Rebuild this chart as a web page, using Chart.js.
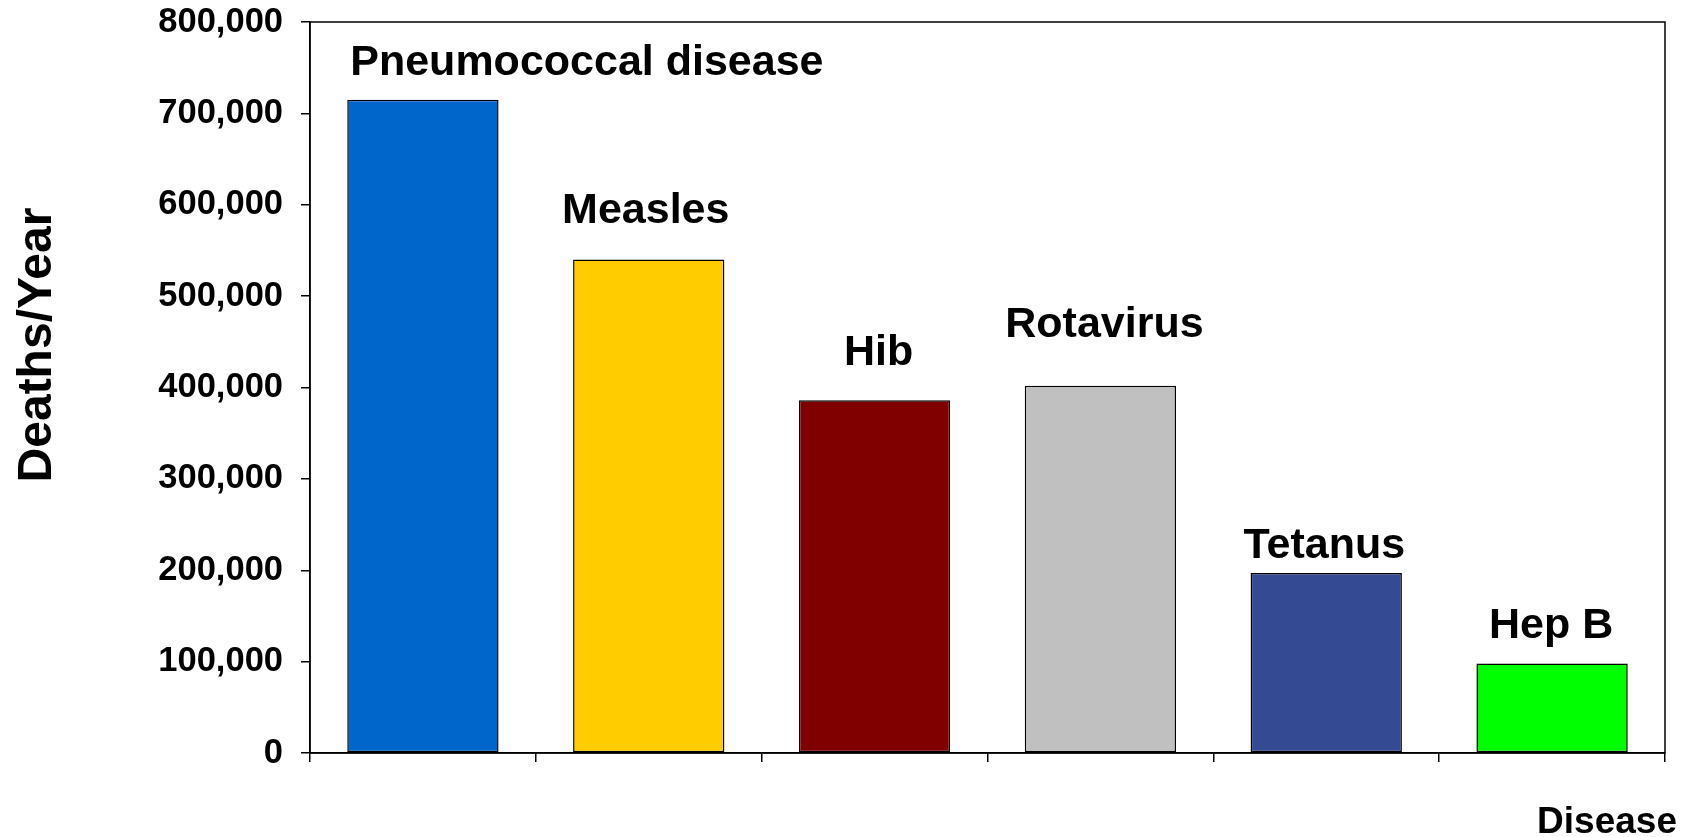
<!DOCTYPE html>
<html>
<head>
<meta charset="utf-8">
<script src="https://cdn.jsdelivr.net/npm/chart.js@4.4.1/dist/chart.umd.min.js"></script>
<style>
  html, body { margin: 0; padding: 0; background: #fff; }
  #wrap { width: 1690px; height: 837px; position: relative; }
</style>
</head>
<body>
<div id="wrap"><canvas id="c" width="1690" height="837"></canvas></div>
<script>
// ---- Data ----
const categories = ["Pneumococcal disease", "Measles", "Hib", "Rotavirus", "Tetanus", "Hep B"];
const deathsPerYear = [715000, 540000, 386000, 402000, 197000, 98000];
const barColors = ["#0066CC", "#FFCC00", "#800000", "#C0C0C0", "#344B94", "#00FF00"];
const yTickValues = [0, 100000, 200000, 300000, 400000, 500000, 600000, 700000, 800000];
const yAxisTitle = "Deaths/Year";
const xAxisTitle = "Disease";

// ---- Label placement (pixel offsets from bar top-center) ----
const labelDx = [-72, -3, 4, 4, -2, -1];   // horizontal offset (px); first label is left aligned at bar left
const labelDy = [37, 48, 47, 61, 27, 37];  // distance above bar top (px)

const FONT = "'Liberation Sans', Arial, Helvetica, sans-serif";

const barLabelPlugin = {
  id: 'barLabels',
  afterDatasetsDraw(chart) {
    const ctx = chart.ctx;
    const meta = chart.getDatasetMeta(0);
    ctx.save();
    ctx.font = "bold 43px " + FONT;
    ctx.fillStyle = "#000";
    ctx.textBaseline = "middle";
    meta.data.forEach((bar, i) => {
      if (i === 0) {
        ctx.textAlign = "left";
        const left = bar.x - bar.width / 2;
        ctx.fillText(categories[i], left + 3, bar.y - labelDy[i]);
      } else {
        ctx.textAlign = "center";
        ctx.fillText(categories[i], bar.x + labelDx[i], bar.y - labelDy[i]);
      }
    });
    ctx.restore();
  }
};

const framePlugin = {
  id: 'frame',
  afterDraw(chart) {
    const a = chart.chartArea;
    const ctx = chart.ctx;
    ctx.save();
    ctx.strokeStyle = "#000";
    ctx.lineWidth = 1.5;
    ctx.strokeRect(a.left, a.top, a.right - a.left, a.bottom - a.top);
    ctx.restore();
  }
};

const axisTitlePlugin = {
  id: 'axisTitles',
  afterDraw(chart) {
    const ctx = chart.ctx;
    ctx.save();
    ctx.fillStyle = "#000";
    ctx.font = "bold 48px " + FONT;
    ctx.textAlign = "center";
    ctx.textBaseline = "middle";
    ctx.translate(38, 345);
    ctx.rotate(-Math.PI / 2);
    ctx.fillText(yAxisTitle, 0, 0);
    ctx.restore();
    ctx.save();
    ctx.fillStyle = "#000";
    ctx.font = "bold 37px " + FONT;
    ctx.textAlign = "right";
    ctx.textBaseline = "alphabetic";
    ctx.fillText(xAxisTitle, 1677, 833);
    ctx.restore();
  }
};

new Chart(document.getElementById('c'), {
  type: 'bar',
  data: {
    labels: categories,
    datasets: [{
      data: deathsPerYear,
      backgroundColor: barColors,
      borderColor: "#000",
      borderWidth: 1.5,
      borderSkipped: false,
      barPercentage: 0.67,
      categoryPercentage: 1.0
    }]
  },
  options: {
    responsive: false,
    animation: false,
    events: [],
    layout: { padding: { top: 22, right: 25, left: 0, bottom: 0 } },
    plugins: {
      legend: { display: false },
      tooltip: { enabled: false },
      title: { display: false }
    },
    scales: {
      x: {
        grid: {
          display: true,
          offset: true,
          drawOnChartArea: false,
          drawTicks: true,
          tickLength: 9,
          color: "#000",
          lineWidth: 1.5
        },
        border: { display: true, color: "#000", width: 1.5 },
        ticks: { display: false },
        afterFit(scale) { scale.height = 84; scale.paddingLeft = 0; scale.paddingRight = 0; }
      },
      y: {
        min: 0,
        max: 800000,
        afterBuildTicks(scale) { scale.ticks = yTickValues.map(v => ({ value: v })); },
        grid: {
          display: true,
          drawOnChartArea: false,
          drawTicks: true,
          tickLength: 9,
          color: "#000",
          lineWidth: 1.5
        },
        border: { display: true, color: "#000", width: 1.5 },
        ticks: {
          color: "#000",
          padding: 18,
          font: { family: FONT, size: 34.5, weight: 'bold' },
          callback: (v) => Number(v).toLocaleString('en-US')
        },
        afterFit(scale) { scale.width = 310; scale.paddingTop = 0; scale.paddingBottom = 0; }
      }
    }
  },
  plugins: [barLabelPlugin, framePlugin, axisTitlePlugin]
});
</script>
</body>
</html>
